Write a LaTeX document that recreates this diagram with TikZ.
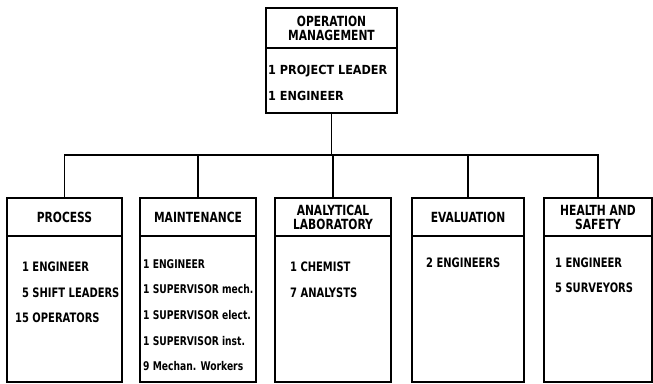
\documentclass[tikz,border=0pt]{standalone}
\usepackage{fontspec}
\setmainfont[FakeStretch=0.85]{DejaVu Sans Condensed}
\newfontfamily\widefont{DejaVu Sans Condensed}
\usetikzlibrary{positioning}
\begin{document}
\begin{tikzpicture}[x=1pt, y=-1pt,
    head/.style={draw, line width=1.7pt, outer sep=0pt, inner sep=0pt, align=center,
        minimum height=38pt, font=\bfseries\fontsize{14}{14}\selectfont},
    body/.style={draw, line width=1.7pt, outer sep=0pt, inner sep=0pt, minimum height=146pt},
    list/.style={anchor=north west, inner sep=0pt, align=left,
        font=\bfseries\fontsize{13}{25.5}\selectfont},
    link/.style={line width=1.1pt}]
    \useasboundingbox (0, 0) rectangle (653, 383);
    % top box
    \node[head, minimum width=131pt, minimum height=40pt] (opH) at (331.5, 28) {OPERATION\\MANAGEMENT};
    \node[body, minimum width=131pt, minimum height=65pt, below=0pt of opH] (opB) {};
    \node[list, font=\widefont\bfseries\fontsize{12.5}{26}\selectfont] (opL) at (268, 65) {1 PROJECT LEADER\\1 ENGINEER};
    % departments
    \node[head, minimum width=115pt] (procH) at (64.5, 217) {PROCESS};
    \node[head, minimum width=116pt] (maintH) at (198, 217) {MAINTENANCE};
    \node[head, minimum width=116pt] (analH) at (333, 217) {ANALYTICAL\\LABORATORY};
    \node[head, minimum width=112pt] (evalH) at (468, 217) {EVALUATION};
    \node[head, minimum width=108pt] (healthH) at (598, 217) {HEALTH AND\\SAFETY};
    \node[body, minimum width=115pt, below=0pt of procH] (procB) {};
    \node[body, minimum width=116pt, below=0pt of maintH] (maintB) {};
    \node[body, minimum width=116pt, below=0pt of analH] (analB) {};
    \node[body, minimum width=112pt, below=0pt of evalH] (evalB) {};
    \node[body, minimum width=108pt, below=0pt of healthH] (healthB) {};
    \node[list] (procL) at (15, 262) {\phantom{1}1 ENGINEER\\\phantom{1}5 SHIFT LEADERS\\15 OPERATORS};
    \node[list, font=\bfseries\fontsize{12}{25.7}\selectfont] (maintL) at (143, 259)
        {1 ENGINEER\\1 SUPERVISOR mech.\\1 SUPERVISOR elect.\\1 SUPERVISOR inst.\\9 Mechan. Workers};
    \node[list] (analL) at (290, 262) {1 CHEMIST\\7 ANALYSTS};
    \node[list] (evalL) at (426, 258) {2 ENGINEERS};
    \node[list, font=\bfseries\fontsize{13}{25}\selectfont] (healthL) at (555, 258) {1 ENGINEER\\5 SURVEYORS};
    % connectors
    \coordinate (bus) at (331.5, 155);
    \draw[link] (opB.south) -- (bus);
    \draw[link] (procH.north) |- (bus) -| (healthH.north);
    \foreach \n in {maintH, analH, evalH}
        \draw[link] (\n.north) -- (\n.north |- bus);
\end{tikzpicture}
\end{document}
